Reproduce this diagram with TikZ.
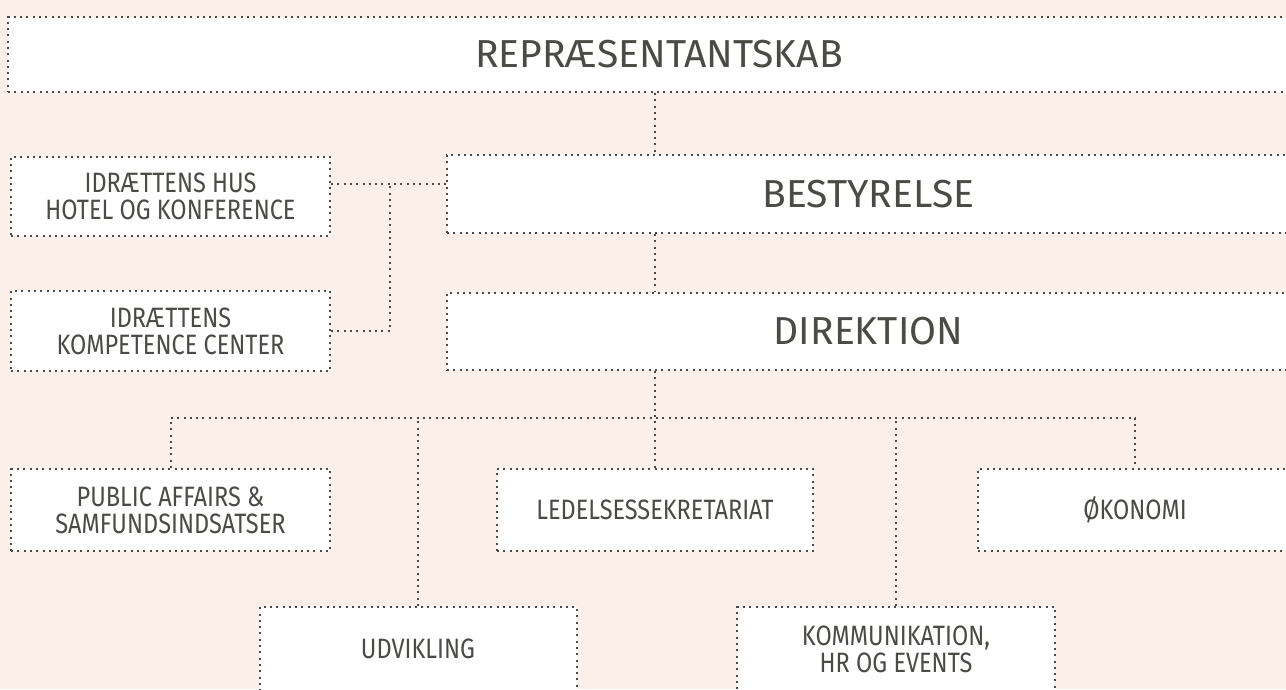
\documentclass[tikz,border=0pt]{standalone}
\usepackage{fontspec}
\setmainfont{Fira Sans}
\newfontfamily\narrowsans{Fira Sans}[FakeStretch=0.84]
\usepackage{xcolor}
\usetikzlibrary{positioning,calc}

\definecolor{bgpink}{HTML}{FBEFEA}
\definecolor{ink}{HTML}{4A4A46}

\tikzset{
  dots/.style={line width=2pt, dash pattern=on 2pt off 4.3pt, draw=ink},
  orgbox/.style={dots, fill=white, align=center, inner sep=0pt, text=ink},
  bigbox/.style={orgbox, font=\fontsize{39}{42}\selectfont},
  smallbox/.style={orgbox, font=\narrowsans\fontsize{28}{27}\selectfont},
  link/.style={dots}
}

\begin{document}
\begin{tikzpicture}[x=1pt,y=-1pt]
  \clip (0,0) rectangle (1286,689);
  \fill[bgpink] (0,0) rectangle (1286,689);

  % top rows
  \node[bigbox, minimum width=1302pt, minimum height=75pt] (rep) at (659,54.5) {REPRÆSENTANTSKAB};
  \node[bigbox, minimum width=843pt, minimum height=78pt] (best) at (868.5,194) {BESTYRELSE};
  \node[bigbox, minimum width=843pt, minimum height=77pt] (dir) at (868.5,331.5) {DIREKTION};

  \node[smallbox, minimum width=319pt, minimum height=79pt] (hus) at (170.5,196) {IDRÆTTENS HUS\\HOTEL OG KONFERENCE};
  \node[smallbox, minimum width=319pt, minimum height=80pt] (komp) at (170.5,331) {IDRÆTTENS\\KOMPETENCE CENTER};

  % departments
  \node[smallbox, minimum width=319pt, minimum height=82pt] (pub) at (170.5,510) {PUBLIC AFFAIRS \&\\SAMFUNDSINDSATSER};
  \node[smallbox, minimum width=316pt, minimum height=82pt] (led) at (655,510) {LEDELSESSEKRETARIAT};
  \node[smallbox, minimum width=314pt, minimum height=82pt] (oko) at (1135,510) {ØKONOMI};
  \node[smallbox, minimum width=317pt, minimum height=84pt] (udv) at (418,649) {UDVIKLING};
  \node[smallbox, minimum width=318pt, minimum height=84pt] (kom) at (896,649) {KOMMUNIKATION,\\HR OG EVENTS};

  \coordinate (trunk) at (655,418);
  \coordinate (hj) at (390,183.5);

  % connectors
  \draw[link] (rep.south -| trunk) -- (best.north -| trunk);
  \draw[link] (best.south -| trunk) -- (dir.north -| trunk);
  \draw[link] (dir.south -| trunk) -- (led.north -| trunk);
  \draw[link] (hus.east |- hj) -- (best.west |- hj);
  \draw[link] (komp.east) -| (hj);
  \draw[link] (pub.north) -- (pub.north |- trunk) -- (oko.north |- trunk) -- (oko.north);
  \draw[link] (udv.north) -- (udv.north |- trunk);
  \draw[link] (kom.north) -- (kom.north |- trunk);
\end{tikzpicture}
\end{document}
